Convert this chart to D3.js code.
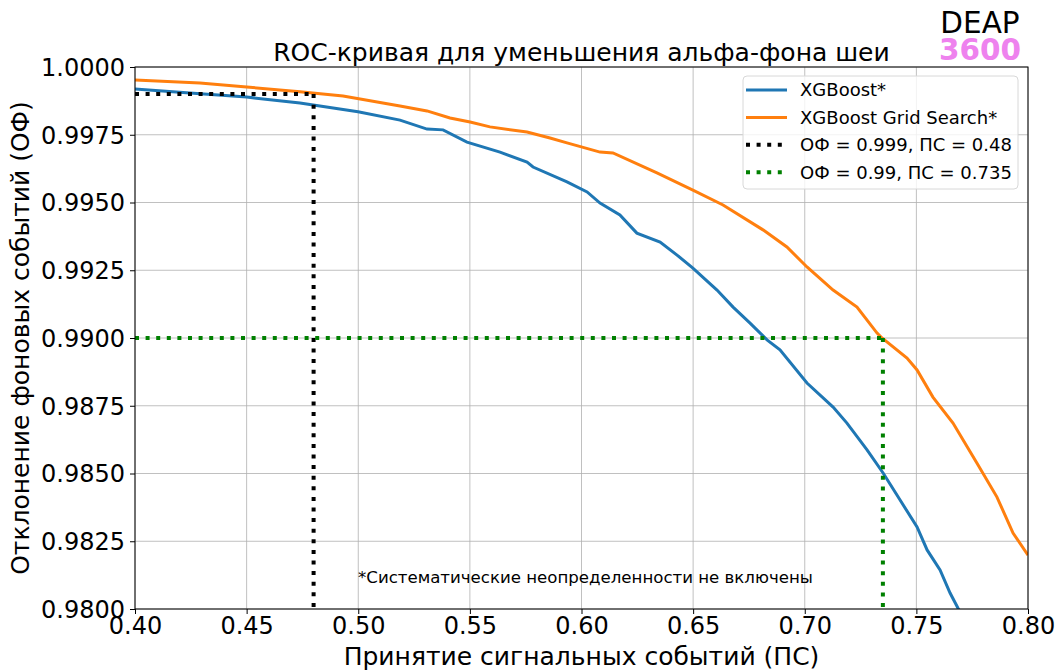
<!DOCTYPE html>
<html><head><meta charset="utf-8">
<script src="https://cdn.jsdelivr.net/npm/d3@7"></script>
<style>body{margin:0;background:#fff;} svg{font-family:"DejaVu Sans",sans-serif;}</style>
</head><body>
<svg id="c" width="1059" height="671"></svg>
<script>
const xgbX = [0.400,0.4246,0.450,0.4739,0.4999,0.5187,0.5308,0.5380,0.5487,0.5635,0.5756,0.5783,0.5935,0.6025,0.6083,0.6172,0.6248,0.6352,0.6428,0.6499,0.6607,0.6679,0.6755,0.6831,0.6889,0.7010,0.7127,0.7189,0.7279,0.7351,0.7427,0.7503,0.7548,0.7606,0.7651,0.7686,0.7704];
const xgbY = [0.99919,0.99904,0.99889,0.99867,0.99835,0.99804,0.99771,0.99768,0.99723,0.99686,0.99649,0.99631,0.99576,0.99539,0.99498,0.99454,0.99387,0.99354,0.99306,0.99258,0.99177,0.99114,0.99055,0.98993,0.98956,0.98834,0.98745,0.98686,0.98587,0.98502,0.98402,0.98303,0.98218,0.98144,0.98059,0.98004,0.97978];
const gridX = [0.400,0.4291,0.450,0.4739,0.4932,0.5187,0.5308,0.5411,0.5501,0.5590,0.5756,0.5859,0.5935,0.6083,0.6141,0.6338,0.6499,0.6634,0.6813,0.6920,0.7010,0.7127,0.7234,0.7324,0.7346,0.7458,0.7503,0.7574,0.7664,0.7771,0.7861,0.7933,0.8000];
const gridY = [0.99952,0.99941,0.99926,0.99909,0.99893,0.99856,0.99838,0.99812,0.99797,0.99779,0.99760,0.99738,0.99720,0.99686,0.99683,0.99609,0.99546,0.99491,0.99399,0.99336,0.99262,0.99177,0.99114,0.99018,0.99000,0.98926,0.98882,0.98782,0.98686,0.98539,0.98413,0.98280,0.98199];
const xTicks = [0.40,0.45,0.50,0.55,0.60,0.65,0.70,0.75,0.80];
const yTicks = [0.9800,0.9825,0.9850,0.9875,0.9900,0.9925,0.9950,0.9975,1.0000];
const thr1 = {bg:0.999, sig:0.48};
const thr2 = {bg:0.99, sig:0.735};
const legendLabels = ["XGBoost*","XGBoost Grid Search*","ОФ = 0.999, ПС = 0.48","ОФ = 0.99, ПС = 0.735"];

const svg = d3.select("#c");
const L=135,R=1028,T=67,B=609;
const x = d3.scaleLinear().domain([0.40,0.80]).range([L,R]);
const y = d3.scaleLinear().domain([0.98,1.0]).range([B,T]);

// grid
svg.append("g").selectAll("line").data(xTicks).join("line")
  .attr("x1",d=>x(d)).attr("x2",d=>x(d)).attr("y1",T).attr("y2",B)
  .attr("stroke","#b0b0b0").attr("stroke-width",0.8);
svg.append("g").selectAll("line").data(yTicks).join("line")
  .attr("y1",d=>y(d)).attr("y2",d=>y(d)).attr("x1",L).attr("x2",R)
  .attr("stroke","#b0b0b0").attr("stroke-width",0.8);

svg.append("defs").append("clipPath").attr("id","clip").append("rect")
  .attr("x",L).attr("y",T).attr("width",R-L).attr("height",B-T);
const plot = svg.append("g").attr("clip-path","url(#clip)");
const line = d3.line().x(d=>x(d[0])).y(d=>y(d[1]));
plot.append("path").datum(xgbX.map((v,i)=>[v,xgbY[i]])).attr("d",line)
  .attr("fill","none").attr("stroke","#1f77b4").attr("stroke-width",3);
plot.append("path").datum(gridX.map((v,i)=>[v,gridY[i]])).attr("d",line)
  .attr("fill","none").attr("stroke","#ff7f0e").attr("stroke-width",3);

function thr(t,color){
  plot.append("path").attr("d",`M${x(0.40)},${y(t.bg)}H${x(t.sig)}`)
    .attr("stroke",color).attr("stroke-width",4).attr("stroke-dasharray","4,6.6").attr("fill","none");
  plot.append("path").attr("d",`M${x(t.sig)},${y(t.bg)}V${y(0.98)}`)
    .attr("stroke",color).attr("stroke-width",4).attr("stroke-dasharray","4,6.6").attr("fill","none");
}
thr(thr1,"#000");
thr(thr2,"#008000");

// axes
const gx = svg.append("g").attr("transform",`translate(0,${B})`)
  .call(d3.axisBottom(x).tickValues(xTicks).tickFormat(d3.format(".2f")).tickSize(5).tickPadding(3));
const gy = svg.append("g").attr("transform",`translate(${L},0)`)
  .call(d3.axisLeft(y).tickValues(yTicks).tickFormat(d3.format(".4f")).tickSize(5).tickPadding(5));
[gx,gy].forEach(g=>{g.selectAll("text").attr("font-size",24).attr("fill","#000").attr("font-family","DejaVu Sans");
  g.selectAll("line").attr("stroke","#000"); g.select(".domain").remove();});
gy.selectAll("text").attr("dy","0.35em");
svg.append("rect").attr("x",L).attr("y",T).attr("width",R-L).attr("height",B-T)
  .attr("fill","none").attr("stroke","#000").attr("stroke-width",1);

// labels
svg.append("text").attr("x",(L+R)/2).attr("y",665).attr("text-anchor","middle")
  .attr("font-size",25).text("Принятие сигнальных событий (ПС)");
svg.append("text").attr("transform",`translate(29,${(T+B)/2}) rotate(-90)`).attr("text-anchor","middle")
  .attr("font-size",25).text("Отклонение фоновых событий (ОФ)");
svg.append("text").attr("x",(L+R)/2).attr("y",61).attr("text-anchor","middle")
  .attr("font-size",25).text("ROC-кривая для уменьшения альфа-фона шеи");
svg.append("text").attr("x",980).attr("y",33).attr("text-anchor","middle")
  .attr("font-size",29.5).text("DEAP");
svg.append("text").attr("x",980).attr("y",60).attr("text-anchor","middle")
  .attr("font-size",29.5).attr("font-weight","bold").attr("fill","#ee82ee").text("3600");
svg.append("text").attr("x",358).attr("y",583)
  .attr("font-size",16.6).text("*Систематические неопределенности не включены");

// legend
const lg = svg.append("g");
lg.append("rect").attr("x",743).attr("y",76).attr("width",275).attr("height",113).attr("rx",4)
  .attr("fill","#fff").attr("fill-opacity",0.8).attr("stroke","#d8d8d8");
const lstyles = [{c:"#1f77b4",d:null},{c:"#ff7f0e",d:null},{c:"#000",d:"4,6.6"},{c:"#008000",d:"4,6.6"}];
legendLabels.forEach((t,i)=>{
  const yy = 90 + i*27.4;
  lg.append("line").attr("x1",746).attr("x2",787).attr("y1",yy).attr("y2",yy)
    .attr("stroke",lstyles[i].c).attr("stroke-width",lstyles[i].d?4:3).attr("stroke-dasharray",lstyles[i].d);
  lg.append("text").attr("x",800).attr("y",yy).attr("dy","0.35em").attr("font-size",18).text(t);
});
</script>
</body></html>
